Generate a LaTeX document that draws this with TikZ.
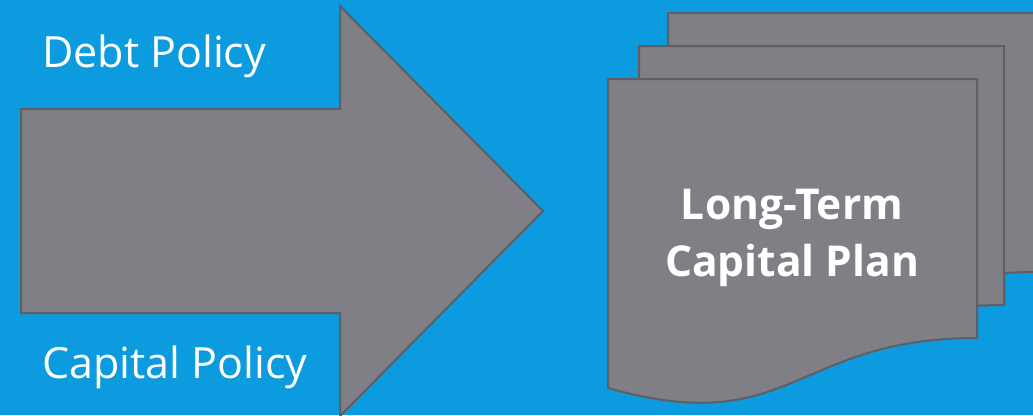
\documentclass[tikz,border=0pt]{standalone}
\usepackage{fontspec}
\setmainfont{Open Sans}
\definecolor{bgblue}{RGB}{11,155,222}
\definecolor{shapegrey}{RGB}{128,127,133}
\definecolor{edgegrey}{RGB}{95,94,100}
\tikzset{
  greyshape/.style={fill=shapegrey, draw=edgegrey, line width=2pt, line join=miter},
  policylabel/.style={text=white, inner sep=0pt, font=\fontsize{43}{50}\selectfont},
  planlabel/.style={text=white, inner sep=0pt, align=center, font=\fontsize{42.5}{57}\selectfont\bfseries},
}
\begin{document}
\begin{tikzpicture}[x=1pt,y=-1pt]
\fill[bgblue] (0,0) rectangle (1033,415);
\useasboundingbox (0,0) rectangle (1033,415);
\begin{scope}
\clip (0,0) rectangle (1033,415);
% big arrow
\draw[greyshape] (21,109) -- (340,109) -- (340,6) -- (543,211) -- (340,416) -- (340,313) -- (21,313) -- cycle;
% stacked documents
\foreach \dx/\dy/\w in {60/-66/369, 31/-33/365, 0/0/369}{
  \begin{scope}[shift={(\dx,\dy)}]
  \draw[greyshape] (608,79) -- (608+\w,79) -- (608+\w,338)
     .. controls (608+\w/2,338) and (608+\w/2,440) .. (608,388) -- cycle;
  \end{scope}
}
\end{scope}
\node[policylabel, anchor=base west] (debt) at (42,67) {Debt Policy};
\node[policylabel, anchor=base west] (capital) at (42,378) {Capital Policy};
\node[planlabel] (plan) at (792,238) {Long-Term\\Capital Plan};
\end{tikzpicture}
\end{document}
